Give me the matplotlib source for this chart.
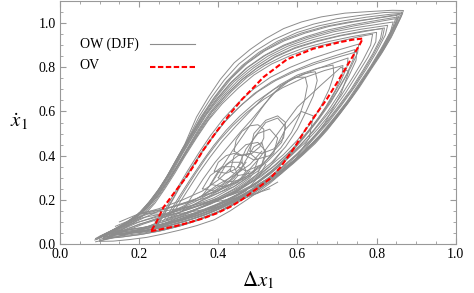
import matplotlib.pyplot as plt
from matplotlib.ticker import MultipleLocator

plt.rcParams["font.family"] = ["Liberation Serif", "DejaVu Serif"]
plt.rcParams["mathtext.fontset"] = "stix"

# OV orbit (red dashed loop)
ov = [(0.23, 0.058), (0.253, 0.066), (0.29, 0.08), (0.32, 0.094), (0.36, 0.115),
      (0.396, 0.139), (0.43, 0.168), (0.455, 0.195), (0.497, 0.25), (0.53, 0.295),
      (0.556, 0.345), (0.59, 0.43), (0.623, 0.525), (0.65, 0.595), (0.674, 0.655),
      (0.7, 0.73), (0.72, 0.79), (0.74, 0.85), (0.758, 0.905), (0.765, 0.93),
      (0.74, 0.925), (0.708, 0.914), (0.64, 0.884), (0.573, 0.835), (0.514, 0.755),
      (0.49, 0.71), (0.46, 0.655), (0.43, 0.59), (0.396, 0.51), (0.362, 0.425),
      (0.34, 0.36), (0.32, 0.305), (0.29, 0.235), (0.261, 0.165), (0.244, 0.1),
      (0.23, 0.058)]

# OW (DJF) trajectories, big loops from outer to inner
ow_1 = [(0.088, 0.018), (0.12, 0.045), (0.155, 0.08), (0.19, 0.12), (0.215, 0.165),
        (0.24, 0.22), (0.265, 0.29), (0.29, 0.37), (0.315, 0.45), (0.345, 0.575),
        (0.375, 0.665), (0.405, 0.745), (0.44, 0.82), (0.48, 0.88), (0.52, 0.93),
        (0.565, 0.975), (0.61, 1.005), (0.66, 1.028), (0.72, 1.045), (0.78, 1.052),
        (0.84, 1.058), (0.868, 1.057), (0.862, 1.03), (0.84, 0.95), (0.817, 0.877),
        (0.79, 0.81), (0.767, 0.745), (0.738, 0.665), (0.708, 0.59), (0.675, 0.515),
        (0.645, 0.455), (0.615, 0.405), (0.59, 0.365), (0.56, 0.32), (0.53, 0.274),
        (0.5, 0.235), (0.472, 0.2), (0.43, 0.15), (0.39, 0.11), (0.345, 0.083),
        (0.303, 0.063), (0.26, 0.045), (0.219, 0.03), (0.175, 0.02), (0.134, 0.013),
        (0.1, 0.012)]
ow_1a = [(0.09, 0.025), (0.125, 0.052), (0.16, 0.088), (0.195, 0.13), (0.22, 0.178),
         (0.245, 0.235), (0.27, 0.305), (0.295, 0.385), (0.322, 0.47), (0.352, 0.578),
         (0.382, 0.662), (0.415, 0.742), (0.452, 0.815), (0.495, 0.875), (0.54, 0.925),
         (0.59, 0.965), (0.64, 0.995), (0.7, 1.02), (0.76, 1.035), (0.82, 1.048),
         (0.864, 1.05), (0.856, 1.015), (0.832, 0.93), (0.808, 0.855), (0.782, 0.785),
         (0.752, 0.705), (0.722, 0.63), (0.69, 0.555), (0.655, 0.485), (0.62, 0.425),
         (0.585, 0.37), (0.55, 0.32), (0.515, 0.272), (0.48, 0.23), (0.44, 0.185),
         (0.4, 0.145), (0.355, 0.112), (0.31, 0.085), (0.26, 0.062), (0.21, 0.045),
         (0.16, 0.033), (0.12, 0.028)]
ow_1c = [(0.092, 0.02), (0.128, 0.048), (0.163, 0.085), (0.197, 0.128), (0.223, 0.18),
         (0.248, 0.24), (0.273, 0.312), (0.298, 0.392), (0.326, 0.48), (0.356, 0.575),
         (0.388, 0.66), (0.422, 0.738), (0.46, 0.808), (0.503, 0.868), (0.55, 0.918),
         (0.6, 0.958), (0.655, 0.988), (0.715, 1.01), (0.775, 1.027), (0.835, 1.04),
         (0.866, 1.045), (0.86, 1.02), (0.837, 0.935), (0.812, 0.86), (0.786, 0.79),
         (0.757, 0.71), (0.727, 0.635), (0.694, 0.56), (0.66, 0.49), (0.625, 0.43),
         (0.59, 0.375), (0.555, 0.325), (0.52, 0.278), (0.484, 0.235), (0.445, 0.19),
         (0.403, 0.15), (0.358, 0.117), (0.312, 0.09), (0.262, 0.067), (0.212, 0.05),
         (0.16, 0.038), (0.118, 0.032)]
ow_1b = [(0.1, 0.035), (0.135, 0.065), (0.17, 0.1), (0.203, 0.145), (0.23, 0.2),
         (0.255, 0.26), (0.28, 0.33), (0.305, 0.41), (0.335, 0.5), (0.365, 0.59),
         (0.398, 0.672), (0.433, 0.75), (0.473, 0.818), (0.518, 0.875), (0.567, 0.92),
         (0.62, 0.955), (0.68, 0.985), (0.74, 1.005), (0.8, 1.022), (0.852, 1.035),
         (0.848, 1.0), (0.822, 0.905), (0.795, 0.825), (0.768, 0.75), (0.738, 0.67),
         (0.706, 0.595), (0.672, 0.52), (0.638, 0.455), (0.602, 0.395), (0.567, 0.345),
         (0.53, 0.295), (0.494, 0.252), (0.455, 0.21), (0.412, 0.17), (0.368, 0.135),
         (0.322, 0.106), (0.272, 0.08), (0.22, 0.06), (0.17, 0.045), (0.125, 0.038)]
ow_2 = [(0.095, 0.03), (0.13, 0.06), (0.165, 0.095), (0.2, 0.14), (0.225, 0.19),
        (0.25, 0.25), (0.275, 0.32), (0.3, 0.4), (0.33, 0.49), (0.36, 0.58),
        (0.39, 0.66), (0.425, 0.74), (0.465, 0.81), (0.51, 0.87), (0.56, 0.92),
        (0.61, 0.955), (0.67, 0.985), (0.73, 1.005), (0.79, 1.02), (0.84, 1.035),
        (0.858, 1.04), (0.85, 1.0), (0.825, 0.91), (0.8, 0.835), (0.775, 0.765),
        (0.745, 0.685), (0.715, 0.61), (0.68, 0.53), (0.645, 0.46), (0.61, 0.4),
        (0.575, 0.345), (0.54, 0.295), (0.505, 0.25), (0.47, 0.21), (0.43, 0.17),
        (0.39, 0.135), (0.345, 0.105), (0.3, 0.08), (0.25, 0.058), (0.2, 0.042),
        (0.15, 0.03), (0.11, 0.025)]
ow_2b = [(0.1, 0.028), (0.138, 0.062), (0.172, 0.1), (0.205, 0.142), (0.23, 0.193),
         (0.254, 0.252), (0.279, 0.322), (0.304, 0.4), (0.333, 0.49), (0.362, 0.575),
         (0.395, 0.655), (0.43, 0.728), (0.47, 0.795), (0.515, 0.852), (0.565, 0.9),
         (0.62, 0.938), (0.68, 0.97), (0.74, 0.993), (0.8, 1.012), (0.855, 1.028),
         (0.846, 0.99), (0.82, 0.9), (0.795, 0.825), (0.768, 0.75), (0.74, 0.672),
         (0.708, 0.597), (0.674, 0.522), (0.64, 0.455), (0.604, 0.393), (0.568, 0.34),
         (0.53, 0.29), (0.492, 0.245), (0.452, 0.203), (0.41, 0.165), (0.365, 0.132),
         (0.318, 0.104), (0.268, 0.08), (0.215, 0.062), (0.163, 0.05), (0.115, 0.045)]
ow_2a = [(0.105, 0.038), (0.14, 0.07), (0.175, 0.105), (0.207, 0.148), (0.232, 0.198),
         (0.257, 0.258), (0.282, 0.328), (0.307, 0.405), (0.337, 0.495), (0.367, 0.582),
         (0.4, 0.662), (0.435, 0.735), (0.475, 0.8), (0.52, 0.855), (0.57, 0.9),
         (0.625, 0.935), (0.685, 0.965), (0.745, 0.988), (0.8, 1.005), (0.848, 1.02),
         (0.842, 0.985), (0.818, 0.9), (0.792, 0.82), (0.765, 0.745), (0.735, 0.665),
         (0.702, 0.588), (0.668, 0.513), (0.632, 0.445), (0.598, 0.385), (0.562, 0.333),
         (0.525, 0.283), (0.487, 0.238), (0.447, 0.197), (0.405, 0.16), (0.36, 0.127),
         (0.312, 0.1), (0.262, 0.077), (0.21, 0.058), (0.16, 0.046), (0.115, 0.04)]
ow_3 = [(0.11, 0.04), (0.145, 0.075), (0.18, 0.11), (0.21, 0.15), (0.235, 0.2),
        (0.26, 0.26), (0.285, 0.33), (0.31, 0.41), (0.34, 0.5), (0.37, 0.585),
        (0.405, 0.665), (0.44, 0.735), (0.48, 0.795), (0.525, 0.85), (0.575, 0.895),
        (0.63, 0.93), (0.69, 0.96), (0.75, 0.98), (0.805, 0.995), (0.842, 1.005),
        (0.835, 0.96), (0.81, 0.88), (0.785, 0.805), (0.755, 0.725), (0.725, 0.645),
        (0.69, 0.565), (0.655, 0.49), (0.62, 0.425), (0.585, 0.365), (0.55, 0.315),
        (0.51, 0.265), (0.47, 0.22), (0.425, 0.178), (0.38, 0.142), (0.33, 0.112),
        (0.28, 0.087), (0.225, 0.066), (0.17, 0.05), (0.12, 0.04)]
ow_3a = [(0.12, 0.045), (0.155, 0.08), (0.19, 0.118), (0.218, 0.16), (0.243, 0.213),
         (0.268, 0.275), (0.293, 0.345), (0.318, 0.422), (0.347, 0.51), (0.378, 0.593),
         (0.412, 0.67), (0.45, 0.74), (0.49, 0.798), (0.535, 0.85), (0.585, 0.893),
         (0.64, 0.925), (0.7, 0.952), (0.76, 0.972), (0.828, 0.99), (0.822, 0.945),
         (0.8, 0.87), (0.775, 0.795), (0.745, 0.712), (0.712, 0.63), (0.678, 0.55),
         (0.643, 0.48), (0.607, 0.415), (0.572, 0.358), (0.535, 0.305), (0.495, 0.255),
         (0.452, 0.21), (0.407, 0.17), (0.36, 0.135), (0.31, 0.107), (0.258, 0.083),
         (0.2, 0.065), (0.15, 0.052), (0.125, 0.047)]
ow_3b = [(0.125, 0.05), (0.16, 0.085), (0.195, 0.125), (0.222, 0.168), (0.247, 0.22),
         (0.272, 0.283), (0.297, 0.355), (0.323, 0.432), (0.352, 0.518), (0.383, 0.598),
         (0.418, 0.672), (0.456, 0.738), (0.497, 0.795), (0.543, 0.845), (0.593, 0.885),
         (0.648, 0.916), (0.708, 0.942), (0.77, 0.962), (0.82, 0.978), (0.815, 0.935),
         (0.793, 0.86), (0.768, 0.785), (0.738, 0.7), (0.705, 0.62), (0.671, 0.542),
         (0.636, 0.474), (0.6, 0.41), (0.564, 0.353), (0.527, 0.3), (0.487, 0.251),
         (0.444, 0.206), (0.398, 0.167), (0.35, 0.133), (0.3, 0.106), (0.248, 0.085),
         (0.19, 0.068), (0.14, 0.056)]
ow_4 = [(0.13, 0.05), (0.165, 0.085), (0.2, 0.125), (0.225, 0.17), (0.25, 0.225),
        (0.275, 0.29), (0.3, 0.36), (0.325, 0.435), (0.355, 0.52), (0.385, 0.6),
        (0.42, 0.675), (0.46, 0.745), (0.5, 0.8), (0.545, 0.85), (0.595, 0.89),
        (0.65, 0.92), (0.71, 0.945), (0.77, 0.965), (0.815, 0.975), (0.81, 0.93),
        (0.79, 0.86), (0.765, 0.785), (0.735, 0.7), (0.7, 0.615), (0.665, 0.535),
        (0.63, 0.465), (0.595, 0.4), (0.56, 0.345), (0.52, 0.29), (0.48, 0.24),
        (0.435, 0.195), (0.39, 0.158), (0.34, 0.125), (0.29, 0.098), (0.235, 0.075),
        (0.18, 0.06), (0.135, 0.05)]
ow_4a = [(0.14, 0.055), (0.175, 0.09), (0.208, 0.13), (0.233, 0.178), (0.258, 0.238),
         (0.282, 0.305), (0.307, 0.378), (0.335, 0.458), (0.365, 0.54), (0.397, 0.618),
         (0.433, 0.69), (0.473, 0.755), (0.517, 0.808), (0.565, 0.852), (0.617, 0.888),
         (0.675, 0.915), (0.735, 0.938), (0.8, 0.958), (0.798, 0.915), (0.778, 0.845),
         (0.752, 0.77), (0.722, 0.685), (0.688, 0.6), (0.652, 0.522), (0.617, 0.455),
         (0.58, 0.393), (0.542, 0.335), (0.503, 0.282), (0.46, 0.232), (0.415, 0.19),
         (0.366, 0.152), (0.315, 0.118), (0.262, 0.092), (0.21, 0.075), (0.165, 0.062),
         (0.145, 0.057)]
ow_5 = [(0.15, 0.06), (0.185, 0.095), (0.215, 0.135), (0.24, 0.185), (0.265, 0.25),
        (0.29, 0.32), (0.315, 0.395), (0.345, 0.48), (0.375, 0.56), (0.41, 0.635),
        (0.45, 0.705), (0.49, 0.765), (0.535, 0.815), (0.585, 0.855), (0.64, 0.89),
        (0.7, 0.915), (0.76, 0.94), (0.79, 0.95), (0.785, 0.9), (0.765, 0.83),
        (0.74, 0.755), (0.71, 0.67), (0.675, 0.585), (0.64, 0.51), (0.605, 0.445),
        (0.57, 0.385), (0.53, 0.325), (0.49, 0.27), (0.445, 0.22), (0.4, 0.178),
        (0.35, 0.14), (0.3, 0.11), (0.25, 0.087), (0.2, 0.072), (0.155, 0.062)]
ow_5a = [(0.235, 0.065), (0.255, 0.12), (0.275, 0.185), (0.297, 0.255), (0.322, 0.33),
         (0.35, 0.41), (0.38, 0.49), (0.412, 0.565), (0.448, 0.635), (0.488, 0.7),
         (0.532, 0.755), (0.582, 0.8), (0.637, 0.84), (0.697, 0.875), (0.755, 0.905),
         (0.752, 0.865), (0.735, 0.8), (0.712, 0.725), (0.684, 0.64), (0.652, 0.56),
         (0.617, 0.482), (0.582, 0.41), (0.545, 0.345), (0.505, 0.288), (0.46, 0.236),
         (0.41, 0.19), (0.358, 0.15), (0.305, 0.115), (0.26, 0.085), (0.235, 0.065)]
ow_5b = [(0.24, 0.07), (0.262, 0.13), (0.282, 0.195), (0.303, 0.262), (0.328, 0.335),
         (0.357, 0.415), (0.388, 0.493), (0.422, 0.565), (0.46, 0.632), (0.5, 0.69),
         (0.545, 0.74), (0.595, 0.782), (0.65, 0.818), (0.71, 0.85), (0.75, 0.87),
         (0.748, 0.83), (0.73, 0.76), (0.706, 0.68), (0.676, 0.598), (0.643, 0.52),
         (0.607, 0.445), (0.57, 0.378), (0.532, 0.318), (0.49, 0.265), (0.443, 0.218),
         (0.393, 0.178), (0.343, 0.143), (0.295, 0.115), (0.258, 0.09), (0.24, 0.07)]
ow_6 = [(0.245, 0.08), (0.265, 0.14), (0.285, 0.2), (0.305, 0.265), (0.33, 0.335),
        (0.355, 0.405), (0.385, 0.48), (0.415, 0.55), (0.45, 0.615), (0.49, 0.68),
        (0.535, 0.735), (0.585, 0.78), (0.64, 0.82), (0.7, 0.855), (0.745, 0.88),
        (0.742, 0.84), (0.725, 0.77), (0.7, 0.69), (0.67, 0.61), (0.64, 0.535),
        (0.605, 0.46), (0.57, 0.39), (0.535, 0.33), (0.495, 0.275), (0.45, 0.225),
        (0.4, 0.18), (0.35, 0.14), (0.3, 0.108), (0.26, 0.09), (0.245, 0.08)]
ow_6a = [(0.26, 0.1), (0.282, 0.16), (0.305, 0.225), (0.33, 0.295), (0.358, 0.37),
         (0.388, 0.445), (0.42, 0.515), (0.455, 0.58), (0.495, 0.643), (0.54, 0.7),
         (0.59, 0.748), (0.645, 0.79), (0.7, 0.825), (0.728, 0.842), (0.725, 0.8),
         (0.708, 0.73), (0.683, 0.65), (0.654, 0.572), (0.62, 0.495), (0.585, 0.425),
         (0.548, 0.362), (0.508, 0.305), (0.462, 0.255), (0.412, 0.208), (0.362, 0.168),
         (0.315, 0.135), (0.275, 0.11), (0.26, 0.1)]
ow_6b = [(0.27, 0.11), (0.292, 0.175), (0.316, 0.245), (0.342, 0.318), (0.371, 0.395),
         (0.402, 0.468), (0.436, 0.535), (0.473, 0.597), (0.515, 0.655), (0.562, 0.707),
         (0.613, 0.75), (0.668, 0.785), (0.715, 0.808), (0.713, 0.768), (0.697, 0.7),
         (0.672, 0.622), (0.643, 0.545), (0.609, 0.472), (0.573, 0.405), (0.535, 0.345),
         (0.493, 0.292), (0.447, 0.244), (0.398, 0.2), (0.35, 0.162), (0.303, 0.132),
         (0.27, 0.11)]
ow_7 = [(0.28, 0.12), (0.3, 0.18), (0.325, 0.25), (0.35, 0.32), (0.38, 0.395),
        (0.41, 0.465), (0.445, 0.535), (0.48, 0.6), (0.515, 0.665), (0.555, 0.72),
        (0.6, 0.765), (0.65, 0.795), (0.69, 0.81), (0.692, 0.765), (0.68, 0.7),
        (0.66, 0.625), (0.635, 0.55), (0.6, 0.47), (0.565, 0.405), (0.525, 0.345),
        (0.485, 0.29), (0.44, 0.24), (0.39, 0.195), (0.34, 0.155), (0.3, 0.13),
        (0.28, 0.12)]
ow_7a = [(0.31, 0.15), (0.335, 0.22), (0.362, 0.295), (0.392, 0.37), (0.425, 0.44),
         (0.455, 0.505), (0.485, 0.565), (0.515, 0.63), (0.545, 0.69), (0.58, 0.74),
         (0.615, 0.77), (0.645, 0.78), (0.65, 0.74), (0.64, 0.67), (0.622, 0.6),
         (0.6, 0.52), (0.57, 0.44), (0.535, 0.37), (0.495, 0.31), (0.45, 0.255),
         (0.4, 0.21), (0.35, 0.175), (0.31, 0.15)]
ow_8 = [(0.36, 0.22), (0.385, 0.28), (0.41, 0.35), (0.435, 0.42), (0.46, 0.485),
        (0.485, 0.55), (0.51, 0.615), (0.535, 0.675), (0.565, 0.725), (0.595, 0.755),
        (0.62, 0.755), (0.625, 0.715), (0.618, 0.65), (0.605, 0.58), (0.585, 0.505),
        (0.558, 0.435), (0.522, 0.37), (0.48, 0.315), (0.43, 0.265), (0.39, 0.235),
        (0.36, 0.22)]

# drifting tracks through the lower band
ow_m1 = [(0.13, 0.04), (0.19, 0.1), (0.25, 0.15), (0.32, 0.19), (0.4, 0.24),
         (0.46, 0.3), (0.5, 0.38), (0.55, 0.5), (0.6, 0.62), (0.66, 0.72),
         (0.71, 0.8), (0.73, 0.78), (0.71, 0.68), (0.67, 0.55), (0.62, 0.43),
         (0.56, 0.32), (0.49, 0.23), (0.42, 0.16), (0.33, 0.1), (0.24, 0.06),
         (0.13, 0.04)]
ow_m2 = [(0.11, 0.03), (0.17, 0.09), (0.22, 0.14), (0.29, 0.17), (0.37, 0.21),
         (0.44, 0.26), (0.5, 0.33), (0.54, 0.42), (0.57, 0.52), (0.61, 0.6),
         (0.64, 0.58), (0.63, 0.48), (0.59, 0.37), (0.53, 0.28), (0.46, 0.21),
         (0.38, 0.15), (0.29, 0.1), (0.19, 0.06), (0.11, 0.03)]
ow_m3 = [(0.2, 0.14), (0.27, 0.16), (0.34, 0.2), (0.41, 0.27), (0.46, 0.35),
         (0.49, 0.44), (0.51, 0.46), (0.52, 0.4), (0.5, 0.32), (0.45, 0.24),
         (0.38, 0.18), (0.3, 0.13), (0.2, 0.14)]
ow_b1 = [(0.09, 0.01), (0.14, 0.03), (0.19, 0.06), (0.24, 0.09), (0.3, 0.12),
         (0.36, 0.15), (0.42, 0.19), (0.47, 0.23), (0.51, 0.27)]
ow_b2 = [(0.1, 0.02), (0.15, 0.05), (0.2, 0.09), (0.26, 0.12), (0.33, 0.16),
         (0.39, 0.2), (0.44, 0.25), (0.48, 0.3), (0.5, 0.35)]
ow_b3 = [(0.12, 0.03), (0.17, 0.07), (0.22, 0.1), (0.28, 0.14), (0.34, 0.18),
         (0.4, 0.23), (0.45, 0.28), (0.48, 0.33)]
ow_b4 = [(0.1, 0.015), (0.16, 0.04), (0.22, 0.07), (0.28, 0.1), (0.34, 0.135),
         (0.4, 0.17), (0.45, 0.21), (0.5, 0.25)]
ow_b5 = [(0.11, 0.02), (0.16, 0.055), (0.21, 0.09), (0.27, 0.125), (0.33, 0.16),
         (0.39, 0.195), (0.45, 0.235), (0.5, 0.28)]
ow_b6 = [(0.12, 0.05), (0.17, 0.09), (0.21, 0.12), (0.27, 0.14), (0.33, 0.17),
         (0.39, 0.21), (0.44, 0.26), (0.48, 0.31)]
ow_b7 = [(0.14, 0.08), (0.18, 0.11), (0.23, 0.14), (0.3, 0.16), (0.37, 0.19),
         (0.43, 0.22), (0.49, 0.26), (0.54, 0.31)]
ow_b8 = [(0.15, 0.1), (0.19, 0.13), (0.25, 0.16), (0.31, 0.2), (0.36, 0.24),
         (0.4, 0.29), (0.43, 0.34)]
ow_b9 = [(0.09, 0.025), (0.15, 0.06), (0.2, 0.1), (0.25, 0.13), (0.31, 0.14),
         (0.38, 0.16), (0.44, 0.19), (0.5, 0.23), (0.55, 0.28)]
ow_b10 = [(0.2, 0.05), (0.26, 0.08), (0.32, 0.12), (0.38, 0.16), (0.43, 0.2),
          (0.47, 0.24), (0.5, 0.3), (0.52, 0.36)]
ow_b11 = [(0.17, 0.045), (0.23, 0.085), (0.29, 0.13), (0.35, 0.19), (0.4, 0.24),
          (0.44, 0.3), (0.47, 0.37)]
ow_b12 = [(0.13, 0.06), (0.18, 0.09), (0.24, 0.12), (0.3, 0.15), (0.36, 0.18),
          (0.42, 0.2), (0.48, 0.22), (0.53, 0.25)]
ow_i1 = [(0.25, 0.08), (0.3, 0.12), (0.35, 0.16), (0.4, 0.2), (0.45, 0.24),
         (0.49, 0.29), (0.53, 0.35), (0.56, 0.42)]
ow_i2 = [(0.24, 0.1), (0.29, 0.15), (0.34, 0.19), (0.39, 0.24), (0.43, 0.29),
         (0.46, 0.34)]
ow_i3 = [(0.26, 0.13), (0.31, 0.17), (0.36, 0.22), (0.4, 0.27), (0.44, 0.31),
         (0.48, 0.36), (0.51, 0.42)]

# small loops in the middle
ow_s1 = [(0.4, 0.3), (0.42, 0.36), (0.45, 0.4), (0.48, 0.41), (0.5, 0.38),
         (0.49, 0.33), (0.46, 0.29), (0.42, 0.28), (0.4, 0.3)]
ow_s2 = [(0.45, 0.35), (0.47, 0.43), (0.5, 0.5), (0.53, 0.52), (0.55, 0.48),
         (0.54, 0.41), (0.51, 0.36), (0.47, 0.33), (0.45, 0.35)]
ow_s3 = [(0.36, 0.25), (0.38, 0.31), (0.41, 0.35), (0.44, 0.35), (0.45, 0.31),
         (0.43, 0.27), (0.39, 0.24), (0.36, 0.25)]
ow_s4 = [(0.47, 0.4), (0.49, 0.48), (0.52, 0.55), (0.55, 0.57), (0.57, 0.53),
         (0.56, 0.46), (0.53, 0.4), (0.49, 0.38), (0.47, 0.4)]
ow_s5 = [(0.43, 0.33), (0.44, 0.4), (0.47, 0.45), (0.5, 0.46), (0.52, 0.42),
         (0.51, 0.36), (0.48, 0.32), (0.45, 0.31), (0.43, 0.33)]
ow_s6 = [(0.48, 0.42), (0.49, 0.5), (0.52, 0.56), (0.55, 0.58), (0.57, 0.55),
         (0.565, 0.48), (0.54, 0.43), (0.51, 0.41), (0.48, 0.42)]
ow_s7 = [(0.38, 0.27), (0.4, 0.33), (0.43, 0.37), (0.46, 0.37), (0.47, 0.33),
         (0.45, 0.28), (0.41, 0.26), (0.38, 0.27)]
ow_s8 = [(0.44, 0.42), (0.445, 0.47), (0.46, 0.51), (0.48, 0.535), (0.5, 0.54),
         (0.515, 0.52), (0.515, 0.48), (0.505, 0.44), (0.485, 0.41), (0.46, 0.4),
         (0.44, 0.42)]
ow_s9 = [(0.39, 0.33), (0.4, 0.37), (0.42, 0.4), (0.44, 0.41), (0.46, 0.4),
         (0.46, 0.37), (0.445, 0.34), (0.42, 0.32), (0.39, 0.33)]

ow_paths = [ow_1, ow_1a, ow_1c, ow_1b, ow_2, ow_2b, ow_2a, ow_3, ow_3a, ow_3b,
            ow_4, ow_4a, ow_5, ow_5a, ow_5b, ow_6, ow_6a, ow_6b, ow_7, ow_7a, ow_8,
            ow_m1, ow_m2, ow_m3,
            ow_b1, ow_b2, ow_b3, ow_b4, ow_b5, ow_b6, ow_b7, ow_b8, ow_b9,
            ow_b10, ow_b11, ow_b12, ow_i1, ow_i2, ow_i3,
            ow_s1, ow_s2, ow_s3, ow_s4, ow_s5, ow_s6, ow_s7, ow_s8, ow_s9]

fig = plt.figure(figsize=(4.74, 2.93), dpi=100)
ax = fig.add_axes([0.1266, 0.1672, 0.8348, 0.8294])

for path in ow_paths:
    xs, ys = zip(*path)
    ax.plot(xs, ys, color="0.55", lw=0.7)

xs, ys = zip(*ov)
ax.plot(xs, ys, color="red", lw=1.5, dashes=(2.6, 1.2))

# legend, Mathematica style: label then sample line
ax.text(0.05, 0.82, "OW (DJF)", transform=ax.transAxes, fontsize=10, va="center")
ax.plot([0.227, 0.341], [0.824, 0.824], transform=ax.transAxes, color="0.55", lw=0.8)
ax.text(0.05, 0.733, "OV", transform=ax.transAxes, fontsize=10, va="center")
ax.plot([0.227, 0.341], [0.73, 0.73], transform=ax.transAxes, color="red", lw=1.5,
        dashes=(2.6, 1.2))

ax.set_xlim(0, 1)
ax.set_ylim(0, 1.1)
ax.xaxis.set_major_locator(MultipleLocator(0.2))
ax.xaxis.set_minor_locator(MultipleLocator(0.05))
ax.yaxis.set_major_locator(MultipleLocator(0.2))
ax.yaxis.set_minor_locator(MultipleLocator(0.05))
ax.xaxis.set_major_formatter(lambda v, p: f"{v:.1f}")
ax.yaxis.set_major_formatter(lambda v, p: f"{v:.1f}")
ax.tick_params(which="both", direction="in", top=True, right=True, color="0.6",
               labelsize=10)
ax.tick_params(axis="x", pad=3)
ax.tick_params(axis="y", pad=3)
ax.tick_params(which="major", length=4)
ax.tick_params(which="minor", length=2)
for s in ax.spines.values():
    s.set_color("0.6")

ax.set_xlabel(r"$\Delta x_1$", fontsize=15, labelpad=6)
ax.set_ylabel(r"$\dot{x}_1$", fontsize=15, rotation=0, labelpad=14, va="center")

fig.savefig("out.png", dpi=100)
